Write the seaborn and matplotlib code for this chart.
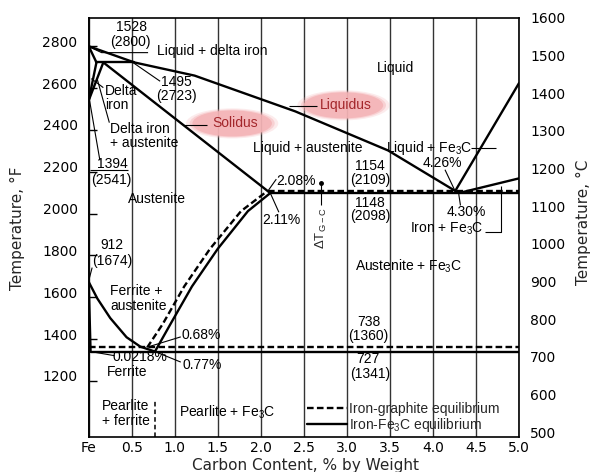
import matplotlib
matplotlib.use("Agg")
import matplotlib.pyplot as plt
import matplotlib.transforms as mtransforms
from matplotlib.patches import Ellipse
from matplotlib.ticker import FixedLocator
import pandas as pd
import seaborn as sns

# ---- phase boundaries: carbon content (wt %) vs temperature (deg C) ----
liquidus_c = [0.0, 0.53, 1.23, 2.40, 3.48, 4.30]
liquidus_t = [1538, 1495, 1460, 1365, 1261, 1148]
graphite_liquidus_c = [4.26, 5.0]
graphite_liquidus_t = [1154, 1440]
cementite_liquidus_c = [4.30, 5.0]
cementite_liquidus_t = [1148, 1187]
delta_solidus_c = [0.0, 0.09]
delta_solidus_t = [1538, 1495]
peritectic_c = [0.09, 0.53]
peritectic_t = [1495, 1495]
austenite_solidus_c = [0.17, 2.11]
austenite_solidus_t = [1495, 1148]
delta_solvus_c = [0.0, 0.09]
delta_solvus_t = [1394, 1495]
gamma_delta_c = [0.0, 0.17]
gamma_delta_t = [1394, 1495]
a3_c = [0.0, 0.10, 0.25, 0.44, 0.60, 0.77]
a3_t = [912, 868, 816, 765, 740, 727]
ferrite_c = [0.0, 0.0218]
ferrite_t = [912, 727]
acm_c = [0.77, 0.95, 1.20, 1.50, 1.85, 2.11]
acm_t = [727, 800, 900, 1000, 1100, 1148]
acm_graphite_c = [0.68, 0.86, 1.11, 1.41, 1.77, 2.08]
acm_graphite_t = [738, 800, 900, 1000, 1100, 1154]
eutectic_c = [2.11, 5.0]
eutectic_t = [1148, 1148]
eutectic_graphite_c = [2.08, 5.0]
eutectic_graphite_t = [1154, 1154]
eutectoid_c = [0.0218, 5.0]
eutectoid_t = [727, 727]
eutectoid_graphite_c = [0.0, 5.0]
eutectoid_graphite_t = [738, 738]
pearlite_divider_c = [0.77, 0.77]
pearlite_divider_t = [500, 600]

FE3C = "Iron-Fe$_3$C equilibrium"
GRAPHITE = "Iron-graphite equilibrium"

boundaries = [
    ("liquidus", FE3C, liquidus_c, liquidus_t),
    ("graphite liquidus", FE3C, graphite_liquidus_c, graphite_liquidus_t),
    ("cementite liquidus", FE3C, cementite_liquidus_c, cementite_liquidus_t),
    ("delta solidus", FE3C, delta_solidus_c, delta_solidus_t),
    ("peritectic", FE3C, peritectic_c, peritectic_t),
    ("austenite solidus", FE3C, austenite_solidus_c, austenite_solidus_t),
    ("delta solvus", FE3C, delta_solvus_c, delta_solvus_t),
    ("gamma/delta", FE3C, gamma_delta_c, gamma_delta_t),
    ("A3", FE3C, a3_c, a3_t),
    ("ferrite", FE3C, ferrite_c, ferrite_t),
    ("Acm", FE3C, acm_c, acm_t),
    ("Acm graphite", GRAPHITE, acm_graphite_c, acm_graphite_t),
    ("eutectic", FE3C, eutectic_c, eutectic_t),
    ("eutectic graphite", GRAPHITE, eutectic_graphite_c, eutectic_graphite_t),
    ("eutectoid", FE3C, eutectoid_c, eutectoid_t),
    ("eutectoid graphite", GRAPHITE, eutectoid_graphite_c, eutectoid_graphite_t),
]

# ---- axes ticks ----
carbon_ticks = [0.0, 0.5, 1.0, 1.5, 2.0, 2.5, 3.0, 3.5, 4.0, 4.5, 5.0]
carbon_labels = ["Fe", "0.5", "1.0", "1.5", "2.0", "2.5", "3.0", "3.5", "4.0", "4.5", "5.0"]
celsius_ticks = [500, 600, 700, 800, 900, 1000, 1100, 1200, 1300, 1400, 1500, 1600]
celsius_grid = [600, 700, 800, 900, 1000, 1100, 1200, 1300, 1400, 1500]
fahrenheit_ticks = [1200, 1400, 1600, 1800, 2000, 2200, 2400, 2600, 2800]

# ---- region names, compositions and temperatures written on the diagram ----
annotations = [
    ("1528", 0.50, 1590, "center"),
    ("(2800)", 0.49, 1550, "center"),
    ("Liquid + delta iron", 1.43, 1526, "center"),
    ("1495", 1.02, 1442, "center"),
    ("(2723)", 1.02, 1407, "center"),
    ("Delta", 0.19, 1418, "left"),
    ("iron", 0.19, 1381, "left"),
    ("Delta iron", 0.25, 1319, "left"),
    ("+ austenite", 0.25, 1280, "left"),
    ("1394", 0.28, 1224, "center"),
    ("(2541)", 0.26, 1184, "center"),
    ("Austenite", 0.79, 1131, "center"),
    ("Liquid", 3.56, 1481, "center"),
    ("Liquid + austenite", 2.54, 1267, "center"),
    ("Liquid + Fe$_3$C", 3.96, 1267, "center"),
    ("4.26%", 4.11, 1227, "center"),
    ("1154", 3.27, 1221, "center"),
    ("(2109)", 3.27, 1184, "center"),
    ("2.08%", 2.41, 1179, "center"),
    ("2.11%", 2.24, 1076, "center"),
    ("1148", 3.27, 1121, "center"),
    ("(2098)", 3.27, 1086, "center"),
    ("4.30%", 4.39, 1097, "center"),
    ("Iron + Fe$_3$C", 4.16, 1052, "center"),
    ("Austenite + Fe$_3$C", 3.72, 954, "center"),
    ("738", 3.25, 805, "center"),
    ("(1360)", 3.25, 768, "center"),
    ("727", 3.25, 707, "center"),
    ("(1341)", 3.27, 667, "center"),
    ("912", 0.27, 1009, "center"),
    ("(1674)", 0.27, 967, "center"),
    ("Ferrite +", 0.25, 887, "left"),
    ("austenite", 0.25, 847, "left"),
    ("0.68%", 1.08, 770, "left"),
    ("0.0218%", 0.60, 712, "center"),
    ("0.77%", 1.09, 691, "left"),
    ("Ferrite", 0.21, 672, "left"),
    ("Pearlite", 0.155, 582, "left"),
    ("+ ferrite", 0.155, 542, "left"),
    ("Pearlite + Fe$_3$C", 1.61, 566, "center"),
]

# leader lines from labels to the points they describe
leaders = [
    ([0.02, 0.15, 0.69], [1535, 1521, 1521]),
    ([0.50, 0.83], [1497, 1445]),
    ([0.17, 0.03], [1428, 1452]),
    ([0.24, 0.10], [1335, 1450]),
    ([0.13, 0.01], [1235, 1394]),
    ([0.015, 0.46], [1208, 1208]),
    ([0.04, 0.0], [950, 915]),
    ([1.10, 1.38], [1328, 1328]),
    ([2.33, 2.65], [1378, 1378]),
    ([2.18, 2.09], [1185, 1156]),
    ([2.11, 2.21], [1148, 1097]),
    ([4.14, 4.25], [1210, 1157]),
    ([4.30, 4.32], [1145, 1115]),
    ([4.44, 4.73], [1269, 1269]),
    ([4.61, 4.79, 4.79], [1044, 1044, 1166]),
    ([1.07, 0.70], [766, 740]),
    ([1.07, 0.78], [699, 726]),
    ([0.02, 0.30], [727, 716]),
    ([2.70, 2.70], [1176, 1115]),
]

# highlighted curve names
highlights = [("Solidus", 1.667, 1333), ("Liquidus", 2.96, 1381)]
highlight_w, highlight_h = 0.924, 69


def c_to_f(c):
    return c * 1.8 + 32


def f_to_c(f):
    return (f - 32) / 1.8


rows = []
for name, system, cs, ts in boundaries:
    for c, t in zip(cs, ts):
        rows.append({"boundary": name, "system": system, "carbon": c, "temp": t})
df = pd.DataFrame(rows)

sns.set_theme(style="white")
plt.rcParams["font.family"] = ["Liberation Sans", "DejaVu Sans"]
plt.rcParams["mathtext.default"] = "regular"

fig = plt.figure(figsize=(5.99, 4.72), dpi=100)
ax = fig.add_axes([88.7 / 599, 1 - 437 / 472, 430.3 / 599, 419 / 472])

sns.lineplot(
    data=df, x="carbon", y="temp", units="boundary", style="system",
    style_order=[GRAPHITE, FE3C],
    dashes={GRAPHITE: (2.8, 1.4), FE3C: ""},
    estimator=None, sort=False, color="black", linewidth=1.7, ax=ax,
)
ax.plot(pearlite_divider_c, pearlite_divider_t, color="black", lw=1.1,
        dashes=(3, 2))

# leaders
for cs, ts in leaders:
    ax.plot(cs, ts, color="black", lw=0.8, solid_capstyle="butt")
ax.plot([2.70], [1176], marker="o", ms=2.5, color="black")

# pink highlight ovals behind curve names
for label, c, t in highlights:
    for scale, alpha in [(1.16, 0.25), (1.07, 0.45), (1.0, 0.85)]:
        ax.add_patch(Ellipse((c, t), highlight_w * scale, highlight_h * scale,
                             facecolor="#f4b3b6", edgecolor="none",
                             alpha=alpha, zorder=1.5))
    ax.text(c + 0.03, t, label, color="#a3262b", fontsize=10,
            ha="center", va="center", zorder=3)

for text, c, t, ha in annotations:
    ax.text(c, t, text, fontsize=10, ha=ha, va="center", color="black",
            zorder=3)

ax.text(2.70, 1054, "ΔT$_{G-C}$", rotation=90, fontsize=9.5,
        ha="center", va="center", zorder=3)

# axes, grid and scales
ax.set_xlim(0, 5.0)
ax.set_ylim(500, 1613)
ax.set_xticks(carbon_ticks)
ax.set_xticklabels(carbon_labels, family="DejaVu Sans")
ax.grid(axis="x", which="major", color="#333333", lw=1.0)

ax.yaxis.tick_right()
ax.yaxis.set_label_position("right")
ax.set_yticks(celsius_ticks)
ax.set_yticklabels([str(v) for v in celsius_ticks], family="DejaVu Sans")
ax.yaxis.set_minor_locator(FixedLocator(celsius_grid))
ax.grid(axis="y", which="minor", color="#333333", lw=1.0)
ax.grid(axis="y", which="major", visible=False)
ax.tick_params(axis="y", which="both", length=0, pad=8, labelsize=10,
               colors="black")
ax.tick_params(axis="x", length=0, pad=3, labelsize=10, colors="black")

for sp in ax.spines.values():
    sp.set_color("black")
    sp.set_linewidth(1.2)

sec = ax.secondary_yaxis("left", functions=(c_to_f, f_to_c))
sec.set_yticks(fahrenheit_ticks)
sec.set_yticklabels([str(v) for v in fahrenheit_ticks], family="DejaVu Sans")
sec.tick_params(direction="in", length=6, width=1.0, pad=8, labelsize=10,
                colors="black")
sec.spines["left"].set_color("black")
sec.spines["left"].set_linewidth(1.2)

sec.set_ylabel("Temperature, °F", family="DejaVu Sans", fontsize=11,
               va="center")
sec.yaxis.set_label_coords(-0.166, 0.499, transform=ax.transAxes)
ax.set_ylabel("Temperature, °C", family="DejaVu Sans", fontsize=11,
              va="center", rotation=90)
ax.yaxis.set_label_coords(1.149, 0.513)
ax.set_xlabel("Carbon Content, % by Weight", family="DejaVu Sans",
              fontsize=11)
ax.xaxis.set_label_coords(0.503, -0.05)

sns.move_legend(
    ax, "lower left", bbox_to_anchor=(0.507, 0.008), title=None,
    frameon=False, handlelength=2.9, handletextpad=0.15, labelspacing=0.0,
    borderpad=0, borderaxespad=0,
    prop={"family": "Liberation Sans", "size": 10},
)

# temperature labels sit slightly above their rulings
shift = mtransforms.ScaledTranslation(0, 0.05, fig.dpi_scale_trans)
for lab in ax.get_yticklabels() + sec.get_yticklabels():
    lab.set_transform(lab.get_transform() + shift)

fig.savefig("out.png", dpi=100, facecolor="white")
